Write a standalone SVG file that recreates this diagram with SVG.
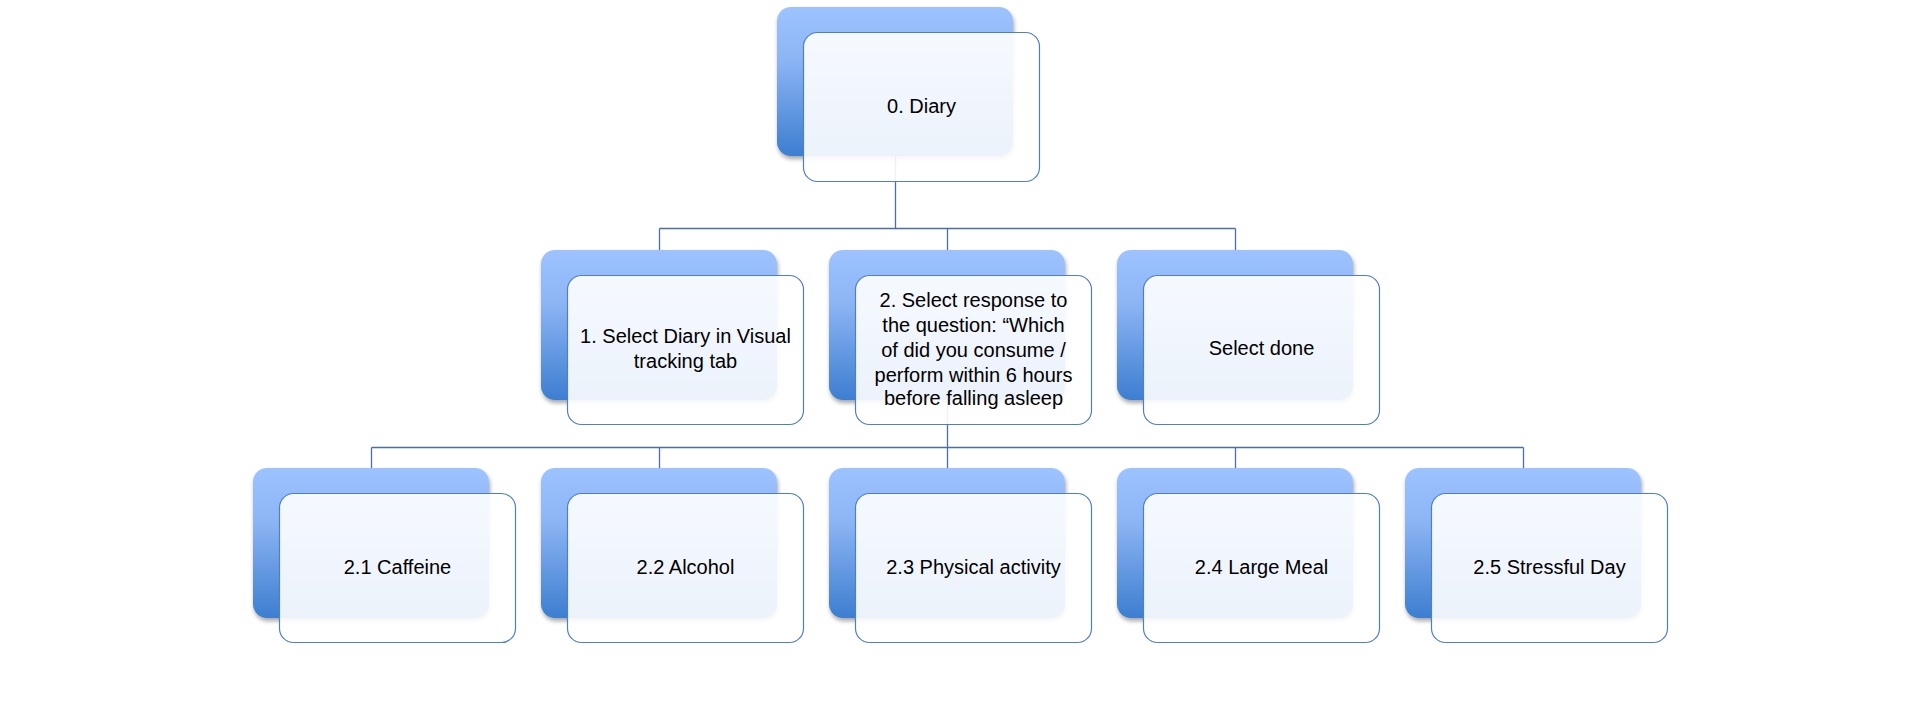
<svg xmlns="http://www.w3.org/2000/svg" width="1920" height="720" viewBox="0 0 1920 720">
<defs>
<linearGradient id="g" x1="0" y1="0" x2="0" y2="1">
<stop offset="0" stop-color="#9DC3FF"/>
<stop offset="0.35" stop-color="#8DB5F5"/>
<stop offset="1" stop-color="#3D7ED0"/>
</linearGradient>
<filter id="sh" x="-10%" y="-10%" width="125%" height="125%">
<feDropShadow dx="1" dy="3" stdDeviation="2" flood-color="#000" flood-opacity="0.35"/>
</filter>
</defs>
<style>
.back{fill:url(#g);filter:url(#sh)}
.front{fill:#fff;fill-opacity:0.9;stroke:#4F7FBF;stroke-width:1.2}
.conn{fill:none;stroke:#4A6FA5;stroke-width:1.3}
.t{font-family:"Liberation Sans",Arial,sans-serif;font-size:20px;fill:#000;text-anchor:middle}
</style>
<rect width="1920" height="720" fill="#fff"/>
<g id="connectors" class="conn">
<path d="M895.5 156 V228.5 M659.5 228.5 H1235.5 M659.5 228.5 V250 M947.5 228.5 V250 M1235.5 228.5 V250"/>
<path d="M947.5 400 V447.5 M371.5 447.5 H1523.5 M371.5 447.5 V468 M659.5 447.5 V468 M947.5 447.5 V468 M1235.5 447.5 V468 M1523.5 447.5 V468"/>
</g>
<g id="n0">
<rect class="back" x="777" y="7" width="236" height="149" rx="14"/>
<rect class="front" x="803.5" y="32.5" width="236" height="149" rx="14"/>
<text class="t" x="921.5" y="113">0. Diary</text>
</g>
<g id="n1">
<rect class="back" x="541" y="250" width="236" height="150" rx="14"/>
<rect class="front" x="567.5" y="275.5" width="236" height="149" rx="14"/>
<text class="t" x="685.5" y="343">1. Select Diary in Visual</text>
<text class="t" x="685.5" y="368">tracking tab</text>
</g>
<g id="n2">
<rect class="back" x="829" y="250" width="236" height="150" rx="14"/>
<rect class="front" x="855.5" y="275.5" width="236" height="149" rx="14"/>
<text class="t" x="973.5" y="307">2. Select response to</text>
<text class="t" x="973.5" y="331.5">the question: “Which</text>
<text class="t" x="973.5" y="356.5">of did you consume /</text>
<text class="t" x="973.5" y="381.5">perform within 6 hours</text>
<text class="t" x="973.5" y="405">before falling asleep</text>
</g>
<g id="n3">
<rect class="back" x="1117" y="250" width="236" height="150" rx="14"/>
<rect class="front" x="1143.5" y="275.5" width="236" height="149" rx="14"/>
<text class="t" x="1261.5" y="355">Select done</text>
</g>
<g id="n21">
<rect class="back" x="253" y="468" width="236" height="150" rx="14"/>
<rect class="front" x="279.5" y="493.5" width="236" height="149" rx="14"/>
<text class="t" x="397.5" y="574">2.1 Caffeine</text>
</g>
<g id="n22">
<rect class="back" x="541" y="468" width="236" height="150" rx="14"/>
<rect class="front" x="567.5" y="493.5" width="236" height="149" rx="14"/>
<text class="t" x="685.5" y="574">2.2 Alcohol</text>
</g>
<g id="n23">
<rect class="back" x="829" y="468" width="236" height="150" rx="14"/>
<rect class="front" x="855.5" y="493.5" width="236" height="149" rx="14"/>
<text class="t" x="973.5" y="574">2.3 Physical activity</text>
</g>
<g id="n24">
<rect class="back" x="1117" y="468" width="236" height="150" rx="14"/>
<rect class="front" x="1143.5" y="493.5" width="236" height="149" rx="14"/>
<text class="t" x="1261.5" y="574">2.4 Large Meal</text>
</g>
<g id="n25">
<rect class="back" x="1405" y="468" width="236" height="150" rx="14"/>
<rect class="front" x="1431.5" y="493.5" width="236" height="149" rx="14"/>
<text class="t" x="1549.5" y="574">2.5 Stressful Day</text>
</g>
</svg>
